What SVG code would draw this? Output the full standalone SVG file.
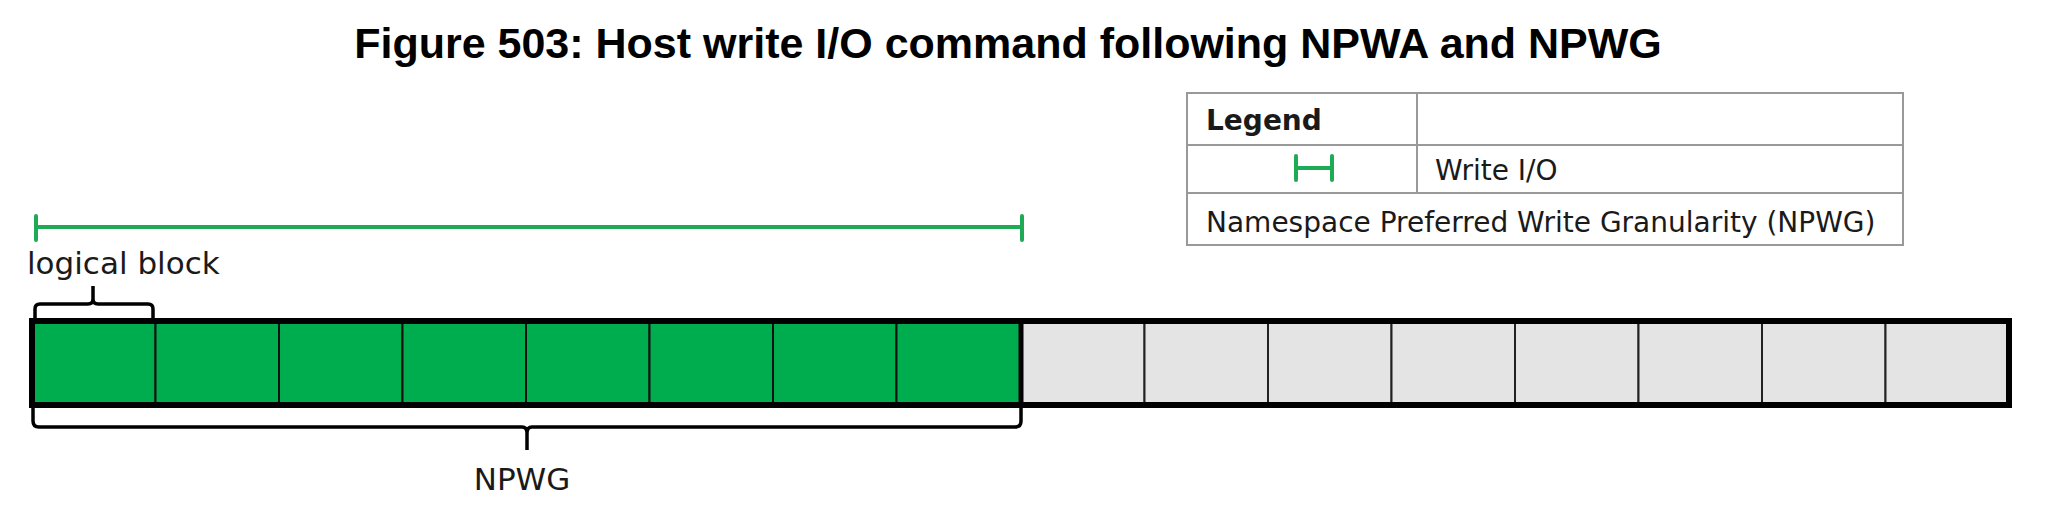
<svg xmlns="http://www.w3.org/2000/svg" width="2048" height="512" viewBox="0 0 2048 512">
  <style>
    .title { font-family: "Liberation Sans", Arial, sans-serif; font-weight: bold; font-size: 43px; fill: #000; }
    .lg { font-family: "DejaVu Sans", Verdana, sans-serif; font-size: 28px; fill: #1a1a1a; }
    .lbl { font-family: "DejaVu Sans", Verdana, sans-serif; font-size: 31px; fill: #1a1a1a; }
    .grid { stroke: #999; stroke-width: 2; fill: none; }
    .io { stroke: #1fab55; stroke-width: 4; fill: none; stroke-linecap: round; }
    .cellG { fill: #00ad4e; stroke: #111; stroke-width: 2; }
    .cellW { fill: #e4e4e4; stroke: #222; stroke-width: 2; }
    .br { stroke: #000; stroke-width: 3.5; fill: none; stroke-linejoin: round; }
  </style>

  <g id="title">
    <text class="title" x="1008" y="58" text-anchor="middle">Figure 503: Host write I/O command following NPWA and NPWG</text>
  </g>

  <g id="legend">
    <rect class="grid" x="1187" y="93" width="716" height="152" fill="#fff"/>
    <line class="grid" x1="1187" y1="145" x2="1903" y2="145"/>
    <line class="grid" x1="1187" y1="193" x2="1903" y2="193"/>
    <line class="grid" x1="1417" y1="93" x2="1417" y2="193"/>
    <text class="lg" x="1206" y="130" font-weight="bold">Legend</text>
    <path class="io" d="M1296 156 V180 M1296 168 H1332 M1332 156 V180" stroke-linecap="butt"/>
    <text class="lg" x="1435" y="180">Write I/O</text>
    <text class="lg" x="1206" y="232">Namespace Preferred Write Granularity (NPWG)</text>
  </g>

  <g id="write-io">
    <path class="io" d="M36 216 V240 M36 227 H1022 M1022 216 V240"/>
  </g>

  <g id="bar">
    <rect class="cellG" x="32" y="321" width="123.5" height="84"/>
    <rect class="cellG" x="155.5" y="321" width="123.5" height="84"/>
    <rect class="cellG" x="279" y="321" width="123.5" height="84"/>
    <rect class="cellG" x="402.5" y="321" width="123.5" height="84"/>
    <rect class="cellG" x="526" y="321" width="123.5" height="84"/>
    <rect class="cellG" x="649.5" y="321" width="123.5" height="84"/>
    <rect class="cellG" x="773" y="321" width="123.5" height="84"/>
    <rect class="cellG" x="896.5" y="321" width="124.5" height="84"/>
    <rect class="cellW" x="1021" y="321" width="123.5" height="84"/>
    <rect class="cellW" x="1144.5" y="321" width="123.5" height="84"/>
    <rect class="cellW" x="1268" y="321" width="123.5" height="84"/>
    <rect class="cellW" x="1391.5" y="321" width="123.5" height="84"/>
    <rect class="cellW" x="1515" y="321" width="123.5" height="84"/>
    <rect class="cellW" x="1638.5" y="321" width="123.5" height="84"/>
    <rect class="cellW" x="1762" y="321" width="123.5" height="84"/>
    <rect class="cellW" x="1885.5" y="321" width="123.5" height="84"/>
    <rect x="32" y="321" width="1977" height="84" fill="none" stroke="#000" stroke-width="6"/>
    <line x1="1021" y1="321" x2="1021" y2="405" stroke="#000" stroke-width="5"/>
  </g>

  <g id="connectors">
    <path class="br" d="M35 318 V309 Q35 304 40 304 H88 Q93 304 93 299 V286 M93 299 Q93 304 98 304 H148 Q153 304 153 309 V318"/>
    <path class="br" d="M33 407 V421 Q33 427 39 427 H522 Q527 427 527 433 V450 M527 433 Q527 427 532 427 H1015 Q1021 427 1021 421 V407"/>
  </g>

  <g id="labels">
    <text class="lbl" x="27" y="274">logical block</text>
    <text class="lbl" x="522" y="490" text-anchor="middle">NPWG</text>
  </g>
</svg>
